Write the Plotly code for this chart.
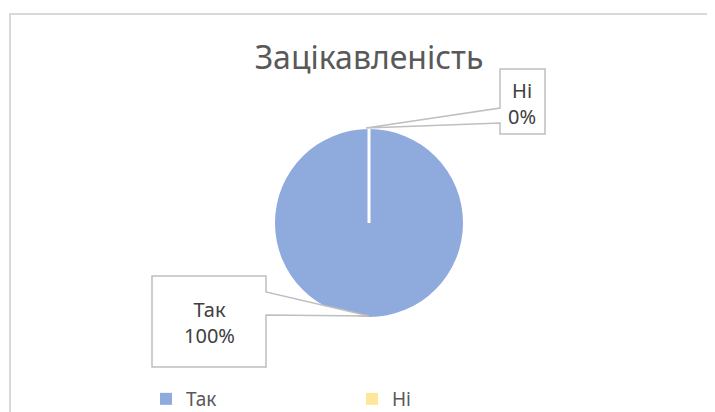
import plotly.graph_objects as go

# ---- data ----
categories = ["Так", "Ні"]
values = [100, 0]
colors = ["#8FAADC", "#FFE699"]
title_text = "Зацікавленість"

W, H = 715, 412
OFF = 8  # page body margin offset
FONT = "Noto Sans"


def px(x):
    return (x - OFF) / W


def py(y):
    return 1 - (y - OFF) / H


def path(points, close=True):
    s = "M" + " L".join(f"{px(x):.5f},{py(y):.5f}" for x, y in points)
    return s + (" Z" if close else "")


total = sum(values)
pcts = [round(v / total * 100) for v in values]

# pie geometry (pixels on page)
cx, cy, r = 369, 223, 94

fig = go.Figure()
fig.add_trace(go.Pie(
    labels=categories,
    values=values,
    marker=dict(colors=colors, line=dict(color="white", width=0)),
    sort=False,
    direction="clockwise",
    rotation=0,
    textinfo="none",
    hoverinfo="label+percent",
    domain=dict(x=[px(cx - r), px(cx + r)], y=[py(cy + r), py(cy - r)]),
))

shapes = [
    # chart border (left + top visible)
    dict(type="path", xref="paper", yref="paper",
         path=path([(10, 430), (10, 14), (730, 14)], close=False),
         line=dict(color="#D9D9D9", width=2)),
    # white separator at slice boundary
    dict(type="line", xref="paper", yref="paper",
         x0=px(cx), y0=py(cy), x1=px(cx), y1=py(cy - r),
         line=dict(color="white", width=3), layer="above"),
    # callout for Так
    dict(type="path", xref="paper", yref="paper",
         path=path([(152, 276), (266, 276), (266, 292), (369, 316), (266, 315), (266, 367), (152, 367)]),
         line=dict(color="#BFBFBF", width=1.5), fillcolor="white", layer="above"),
    # callout for Ні
    dict(type="path", xref="paper", yref="paper",
         path=path([(500, 69), (545, 69), (545, 134), (500, 134), (500, 123), (366, 128), (500, 108)]),
         line=dict(color="#BFBFBF", width=1.5), fillcolor="white", layer="above"),
]

annotations = [
    dict(xref="paper", yref="paper", x=px(209), y=py(322), xanchor="center", yanchor="middle",
         text=f"{categories[0]}<br>{pcts[0]}%", showarrow=False,
         font=dict(family=FONT, size=20, color="#404040"), align="center"),
    dict(xref="paper", yref="paper", x=px(522), y=py(103), xanchor="center", yanchor="middle",
         text=f"{categories[1]}<br>{pcts[1]}%", showarrow=False,
         font=dict(family=FONT, size=20, color="#404040"), align="center"),
]

fig.update_layout(
    width=W, height=H, autosize=False,
    margin=dict(l=0, r=0, t=0, b=0),
    paper_bgcolor="white", plot_bgcolor="white",
    title=dict(text=title_text, x=px(369), xanchor="center", y=py(58), yanchor="middle",
               font=dict(family=FONT, size=32, color="#595959")),
    shapes=shapes,
    annotations=annotations,
    showlegend=True,
    legend=dict(orientation="h", x=px(146), xanchor="left", y=py(399), yanchor="middle",
                font=dict(family=FONT, size=19, color="#595959"),
                entrywidth=161, entrywidthmode="pixels",
                bgcolor="rgba(0,0,0,0)"),
)

fig.write_html("out.html")
